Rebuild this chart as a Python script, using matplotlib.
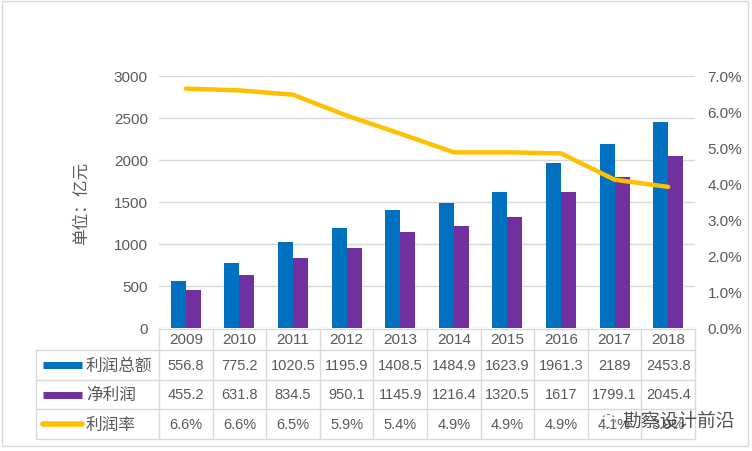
import numpy as np
import matplotlib
matplotlib.use("Agg")
import matplotlib.pyplot as plt
from matplotlib.transforms import blended_transform_factory
from matplotlib.patches import Rectangle
from matplotlib.lines import Line2D

plt.rcParams['font.family'] = ['Liberation Sans', 'Noto Sans CJK SC', 'DejaVu Sans']

years = ["2009", "2010", "2011", "2012", "2013", "2014", "2015", "2016", "2017", "2018"]
total_profit = [556.8, 775.2, 1020.5, 1195.9, 1408.5, 1484.9, 1623.9, 1961.3, 2189, 2453.8]
net_profit = [455.2, 631.8, 834.5, 950.1, 1145.9, 1216.4, 1320.5, 1617, 1799.1, 2045.4]
profit_rate = [6.65, 6.6, 6.48, 5.9, 5.4, 4.88, 4.88, 4.85, 4.12, 3.92]
total_labels = ["556.8", "775.2", "1020.5", "1195.9", "1408.5", "1484.9", "1623.9", "1961.3", "2189", "2453.8"]
net_labels = ["455.2", "631.8", "834.5", "950.1", "1145.9", "1216.4", "1320.5", "1617", "1799.1", "2045.4"]
rate_labels = ["6.6%", "6.6%", "6.5%", "5.9%", "5.4%", "4.9%", "4.9%", "4.9%", "4.1%", "3.9%"]

blue = "#0070C0"
purple = "#7030A0"
yellow = "#FFC000"
grid_c = "#D9D9D9"
txt_c = "#595959"
cjk = ['Noto Sans CJK SC', 'DejaVu Sans']

W, H = 752, 452
fig = plt.figure(figsize=(W / 100, H / 100), dpi=100)

def fy(py):
    return 1 - py / H

ax = fig.add_axes([159 / W, fy(329), 536 / W, (329 - 77) / H])
x = np.arange(len(years))
bw = 0.28
ax.bar(x - bw / 2, total_profit, bw, color=blue, zorder=3)
ax.bar(x + bw / 2, net_profit, bw, color=purple, zorder=3)
ax.set_xlim(-0.5, len(years) - 0.5)
ax.set_ylim(0, 3000)
ax.set_yticks(np.arange(0, 3001, 500))
ax.set_xticks([])
ax.grid(axis="y", color=grid_c, linewidth=1, zorder=0)
for s in ax.spines.values():
    s.set_visible(False)
ax.tick_params(axis="y", length=0, pad=8, labelsize=11, labelcolor=txt_c)
ax.set_ylabel("单位：亿元", family=cjk, fontsize=12, color=txt_c, labelpad=17)

ax2 = ax.twinx()
ax2.plot(x, [r / 100 for r in profit_rate], color=yellow, linewidth=3.2, solid_capstyle="round", zorder=4)
ax2.set_ylim(0, 0.07)
ax2.set_yticks(np.arange(0, 0.0701, 0.01))
ax2.set_yticklabels([f"{v:.1f}%" for v in np.arange(0, 7.01, 1)])
for s in ax2.spines.values():
    s.set_visible(False)
ax2.tick_params(axis="y", length=0, pad=9, labelsize=11, labelcolor=txt_c)

# data table under the chart
tr = blended_transform_factory(ax.transData, fig.transFigure)
left_px = 36
x_left = -0.5 - (159 - left_px) / (536 / len(years))
rows_y = [330, 351, 381, 410, 440]

ax.add_line(Line2D([-0.5, len(years) - 0.5], [fy(330)] * 2, transform=tr, color=grid_c, lw=1, clip_on=False))
for yy in rows_y[1:]:
    ax.add_line(Line2D([x_left, len(years) - 0.5], [fy(yy)] * 2, transform=tr, color=grid_c, lw=1, clip_on=False))
for i in range(len(years) + 1):
    ax.add_line(Line2D([i - 0.5] * 2, [fy(330), fy(440)], transform=tr, color=grid_c, lw=1, clip_on=False))
ax.add_line(Line2D([x_left] * 2, [fy(351), fy(440)], transform=tr, color=grid_c, lw=1, clip_on=False))

row_mid = [(a + b) / 2 for a, b in zip(rows_y[:-1], rows_y[1:])]
for i, yr in enumerate(years):
    ax.text(i, fy(row_mid[0]), yr, transform=tr, ha="center", va="center", fontsize=11, color=txt_c)
for row, labels in zip(row_mid[1:], [total_labels, net_labels, rate_labels]):
    for i, lab in enumerate(labels):
        ax.text(i, fy(row), lab, transform=tr, ha="center", va="center", fontsize=10.5, color=txt_c)

names = ["利润总额", "净利润", "利润率"]
colors = [blue, purple, yellow]
for row, name, c in zip(row_mid[1:], names, colors):
    fig.add_artist(Line2D([43 / W, 82 / W], [fy(row)] * 2, color=c, lw=5 if c != yellow else 4,
                          solid_capstyle="butt" if c != yellow else "round"))
    fig.text(86 / W, fy(row), name, family=cjk, fontsize=12, color=txt_c, ha="left", va="center")

# watermark
fig.text(622 / W, fy(421), "勘察设计前沿", family=cjk, fontsize=13.5, color="#333333", ha="left", va="center",
         alpha=0.85)
fig.text(608 / W, fy(420), "\u25cc", family=['DejaVu Sans'], fontsize=14, color="#888888", ha="center", va="center")

fig.add_artist(Rectangle((2 / W, fy(447)), 746 / W, 445 / H, transform=fig.transFigure,
                         fill=False, edgecolor=grid_c, lw=1))

fig.savefig("out.png", dpi=100, facecolor="white")
plt.close(fig)
